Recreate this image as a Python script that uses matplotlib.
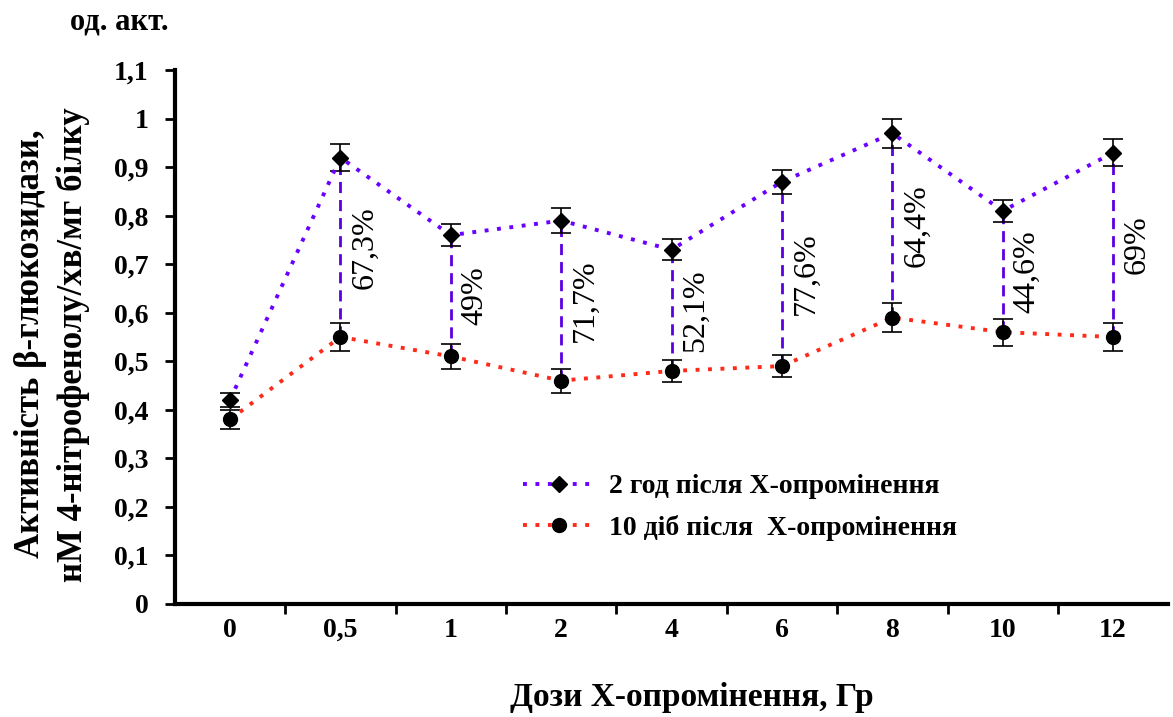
import numpy as np
import matplotlib.pyplot as plt

plt.rcParams['font.family'] = ['Liberation Serif', 'DejaVu Serif']
plt.rcParams['font.weight'] = 'bold'

doses = ['0', '0,5', '1', '2', '4', '6', '8', '10', '12']
h2 = [0.42, 0.92, 0.76, 0.79, 0.73, 0.87, 0.97, 0.81, 0.93]
h2_err = [0.015, 0.028, 0.022, 0.025, 0.022, 0.025, 0.03, 0.022, 0.028]
d10 = [0.38, 0.55, 0.51, 0.46, 0.48, 0.49, 0.59, 0.56, 0.55]
d10_err = [0.02, 0.028, 0.025, 0.025, 0.022, 0.022, 0.03, 0.028, 0.028]
pct = ['', '67,3%', '49%', '71,7%', '52,1%', '77,6%', '64,4%', '44,6%', '69%']

fig = plt.figure(figsize=(11.73, 7.17), dpi=100)
ax = fig.add_axes([0.149, 0.158, 0.847, 0.744])
x = np.arange(len(doses))

# vertical dashed connectors + % labels
for i in range(1, len(doses)):
    ax.plot([x[i], x[i]], [d10[i], h2[i]], color='#5a00e0', ls=(0, (4, 2.5)), lw=2, zorder=1)
    ax.text(x[i] + 0.22, (h2[i] + d10[i]) / 2, pct[i], rotation=90, ha='center', va='center',
            fontsize=23, fontweight='normal')

ax.errorbar(x, h2, yerr=h2_err, fmt='none', ecolor='black', elinewidth=1.2, capsize=7, capthick=1.2, zorder=2)
ax.errorbar(x, d10, yerr=d10_err, fmt='none', ecolor='black', elinewidth=1.2, capsize=7, capthick=1.2, zorder=2)
ax.plot(x, h2, color='#6a00ff', ls=(0, (1, 2.2)), lw=2.8, marker='D', ms=8, mfc='black', mec='black',
        label='2 год після Х-опромінення', zorder=3)
ax.plot(x, d10, color='#ff2a1a', ls=(0, (1, 2.2)), lw=2.8, marker='o', ms=10, mfc='black', mec='black',
        label='10 діб після  Х-опромінення', zorder=3)

ax.set_xlim(-0.5, 8.5)
ax.set_ylim(0, 1.1)
ax.set_yticks(np.arange(0, 1.11, 0.1))
ax.set_yticklabels(['0'] + [('%.1f' % v).replace('.', ',').replace('1,0', '1') for v in np.arange(0.1, 1.11, 0.1)])
ax.set_xticks(x)
ax.set_xticklabels(doses)
ax.set_xticks(np.arange(0.5, 8.5, 1), minor=True)
ax.tick_params(axis='x', which='major', length=0, pad=10, labelsize=20)
ax.tick_params(axis='x', which='minor', length=7, width=2, direction='out')
ax.tick_params(axis='y', length=7, width=2, direction='out', labelsize=20, pad=12)
for s in ['top', 'right']:
    ax.spines[s].set_visible(False)
for s in ['left', 'bottom']:
    ax.spines[s].set_linewidth(3)

fig.text(0.59, 0.027, 'Дози Х-опромінення, Гр', fontsize=24, fontweight='bold', ha='center', va='center')
fig.text(0.044, 0.52, 'Активність β-глюкозидази,\nнМ 4-нітрофенолу/хв/мг білку', fontsize=25,
         fontweight='bold', rotation=90, ha='center', va='center', multialignment='center',
         linespacing=1.35)
fig.text(0.06, 0.99, 'од. акт.', fontsize=22, fontweight='bold', va='top')

ax.legend(loc='upper left', bbox_to_anchor=(0.325, 0.29), frameon=False,
          handlelength=2.6, handletextpad=0.5, labelspacing=0.55, prop={'weight': 'bold', 'size': 20})

fig.savefig('out.png', dpi=100)
